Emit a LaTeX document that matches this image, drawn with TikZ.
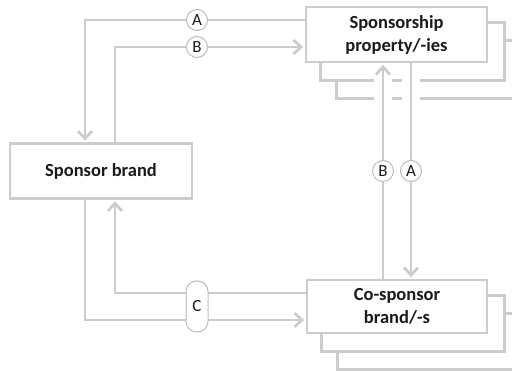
\documentclass[tikz,border=0pt]{standalone}
\usepackage{fontspec}
\setmainfont{Carlito}
\usetikzlibrary{arrows.meta}
\pgfdeclarelayer{background}
\pgfsetlayers{background,main}
\definecolor{linegray}{RGB}{204,204,204}
\definecolor{ringgray}{RGB}{188,188,188}
\definecolor{inkdark}{RGB}{26,26,26}
\begin{document}
\begin{tikzpicture}[x=1pt,y=-1pt,
  box/.style={draw=linegray,line width=2.8pt,fill=white,inner sep=0pt,align=center,
    text=inkdark,font=\fontsize{18.5}{23}\selectfont\bfseries},
  sheet/.style={draw=linegray,line width=2.8pt,fill=white},
  conn/.style={draw=linegray,line width=2.8pt},
  arr/.style={conn,-{Straight Barb[length=7.5pt,width=14pt]},shorten >=1.5pt},
  ring/.style={circle,draw=ringgray,line width=1pt,fill=white,minimum size=21pt,
    inner sep=0pt,text=inkdark,font=\fontsize{17}{17}\selectfont},
  pill/.style={rectangle,rounded corners=10.5pt,draw=ringgray,line width=1pt,fill=white,
    minimum width=22pt,minimum height=51pt,inner sep=0pt,text=inkdark,
    font=\fontsize{17}{17}\selectfont}]
\useasboundingbox (0,0) rectangle (512,371);

% main boxes
\node[box,minimum width=181pt,minimum height=55pt] (prop) at (396.5,34.5)
  {Sponsorship\\property/-ies};
\node[box,minimum width=180pt,minimum height=53pt] (cosp) at (397,306.5)
  {Co-sponsor\\brand/-s};
\node[box,minimum width=182pt,minimum height=55pt] (sponsor) at (101,171)
  {Sponsor brand};

% bend points of the connectors
\coordinate (kA) at (85,20);
\coordinate (kB) at (115,47);
\coordinate (kC) at (115,293);
\coordinate (kD) at (85,320);
\coordinate (vB) at (383,0);
\coordinate (vA) at (411,0);

% stacked sheets behind the main boxes, and gaps where the lines cross them
\begin{pgfonlayer}{background}
  \fill[white] (0,0) rectangle (512,371);
  \draw[sheet] ([shift={(32,35)}]prop.north west) rectangle ([shift={(32,35)}]prop.south east);
  \draw[sheet] ([shift={(16,17)}]prop.north west) rectangle ([shift={(16,17)}]prop.south east);
  \draw[sheet] ([shift={(32,35)}]cosp.north west) rectangle ([shift={(32,35)}]cosp.south east);
  \draw[sheet] ([shift={(16,17)}]cosp.north west) rectangle ([shift={(16,17)}]cosp.south east);
  \draw[white,line width=18pt] (vB |- prop.south) -- (vB |- cosp.north);
  \draw[white,line width=18pt] (vA |- prop.south) -- (vA |- cosp.north);
\end{pgfonlayer}

% connectors
\draw[arr] (prop.west |- kA) -| (kA |- sponsor.north);
\draw[arr] (kB |- sponsor.north) |- (prop.west |- kB);
\draw[arr] (cosp.west |- kC) -| (kC |- sponsor.south);
\draw[arr] (kD |- sponsor.south) |- (cosp.west |- kD);
\draw[arr] (vB |- cosp.north) -- (vB |- prop.south);
\draw[arr] (vA |- prop.south) -- (vA |- cosp.north);

% labels on the connectors
\node[ring] (la1) at (197,20) {A};
\node[ring] (lb1) at (197,47) {B};
\node[ring] (lb2) at (383,171) {B};
\node[ring] (la2) at (411,171) {A};
\node[pill] (lc) at (197,306.5) {C};
\end{tikzpicture}
\end{document}
